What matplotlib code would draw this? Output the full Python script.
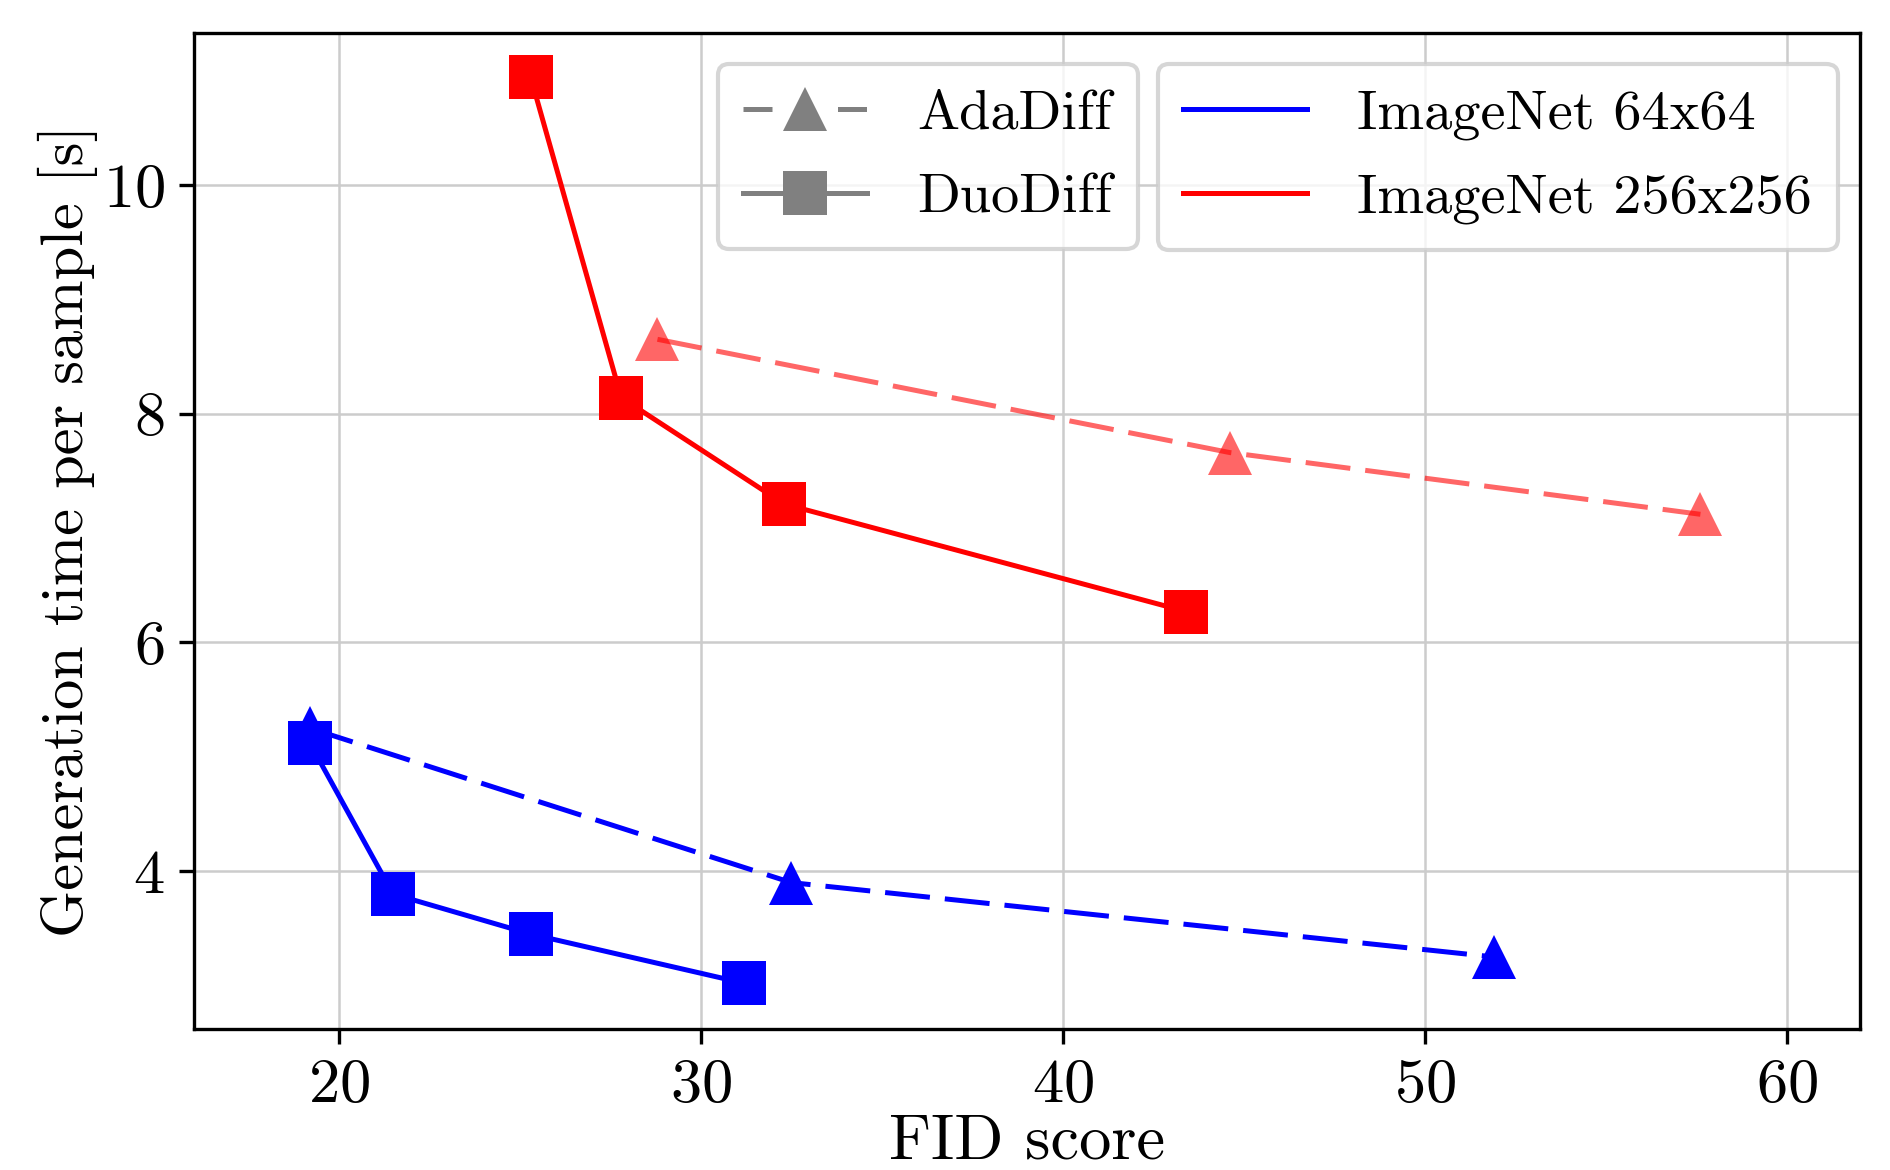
import matplotlib
matplotlib.use("Agg")
import matplotlib.pyplot as plt
from matplotlib.lines import Line2D

# LaTeX-like look
plt.rcParams['font.family'] = 'serif'
plt.rcParams['font.serif'] = ['cmr10', 'DejaVu Serif']
plt.rcParams['mathtext.fontset'] = 'cm'
plt.rcParams['axes.formatter.use_mathtext'] = True

# data
ada_64_fid = [19.2, 32.5, 51.9]
ada_64_time = [5.25, 3.90, 3.25]
duo_64_fid = [19.2, 21.5, 25.3, 31.2]
duo_64_time = [5.12, 3.80, 3.45, 3.02]

ada_256_fid = [28.8, 44.6, 57.6]
ada_256_time = [8.65, 7.66, 7.12]
duo_256_fid = [25.3, 27.8, 32.3, 43.4]
duo_256_time = [10.94, 8.14, 7.21, 6.27]

x_ticks = [20, 30, 40, 50, 60]
y_ticks = [4, 6, 8, 10]

dash = (0, (9, 3))
ms = 10.4
lw = 1.2

fig = plt.figure(figsize=(6.3, 3.9), dpi=300)
ax = fig.add_axes([0.1026, 0.1205, 0.8814, 0.8515])

# AdaDiff (dashed, triangles)
ax.plot(ada_64_fid, ada_64_time, color='blue', linestyle=dash, lw=lw,
        marker='^', markersize=ms, markeredgewidth=0)
ax.plot(ada_256_fid, ada_256_time, color='red', alpha=0.6, linestyle=dash,
        lw=lw, marker='^', markersize=ms, markeredgewidth=0)

# DuoDiff (solid, squares)
ax.plot(duo_64_fid, duo_64_time, color='blue', linestyle='-', lw=lw,
        marker='s', markersize=ms, markeredgewidth=0)
ax.plot(duo_256_fid, duo_256_time, color='red', linestyle='-', lw=lw,
        marker='s', markersize=ms, markeredgewidth=0)

ax.set_xlim(16, 62)
ax.set_ylim(2.62, 11.33)
ax.set_xticks(x_ticks)
ax.set_yticks(y_ticks)
ax.tick_params(labelsize=15)
ax.grid(True, color='#cccccc', linewidth=0.6)
ax.set_axisbelow(True)
for s in ax.spines.values():
    s.set_linewidth(0.8)

ax.set_xlabel('FID score', fontsize=15.5, labelpad=0)
ax.set_ylabel('Generation time per sample [s]', fontsize=14.5, labelpad=1)

# legend for methods
method_handles = [
    Line2D([], [], color='gray', linestyle=(0, (5.8, 13.1)), lw=lw, marker='^',
           markersize=ms, markeredgewidth=0),
    Line2D([], [], color='gray', linestyle='-', lw=lw, marker='s',
           markersize=ms, markeredgewidth=0),
]
leg_kw = dict(loc='upper left', borderaxespad=0, fontsize=13.5,
              handlelength=2.2, handletextpad=0.9, labelspacing=0.6,
              borderpad=0.45)
leg1 = ax.legend(method_handles, ['AdaDiff', 'DuoDiff'],
                 bbox_to_anchor=(0.3145, 0.969), **leg_kw)
ax.add_artist(leg1)

# legend for datasets
data_handles = [
    Line2D([], [], color='blue', lw=lw),
    Line2D([], [], color='red', lw=lw),
]
ax.legend(data_handles, ['ImageNet 64x64', 'ImageNet 256x256'],
          bbox_to_anchor=(0.5786, 0.969), **leg_kw)

fig.savefig('out.png', dpi=300)
